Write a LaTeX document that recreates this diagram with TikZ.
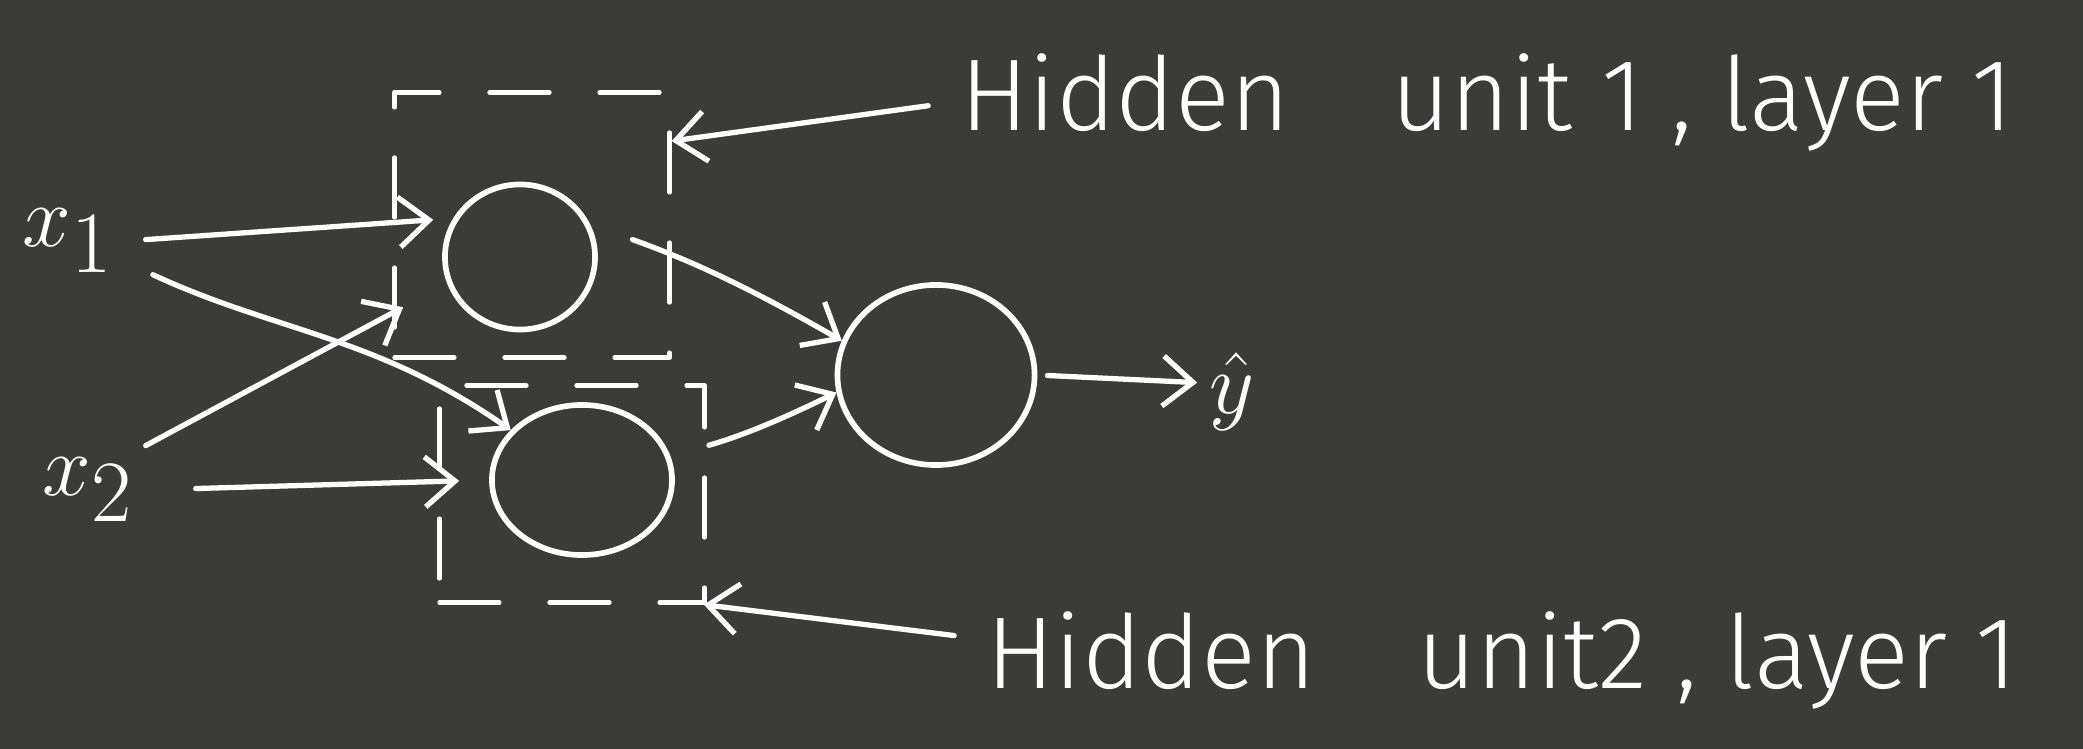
\documentclass[tikz,border=0pt]{standalone}
\usepackage{fontspec}
\usepackage{tikz}
\usetikzlibrary{arrows.meta, positioning, shapes.geometric}
\newfontfamily\handfont{Fira Sans}[UprightFont={* Light}]
\definecolor{boardbg}{RGB}{59,59,57}

\begin{document}
\begin{tikzpicture}[
    x=0.01cm, y=-0.01cm,
    line cap=round, line join=round,
    unitst/.style={draw=white, ellipse, line width=1.6pt, inner sep=0pt},
    boxst/.style={draw=white, line width=1.2pt, dash pattern=on 0.6cm off 0.5cm, inner sep=0pt},
    inst/.style={text=white, font=\fontsize{40}{48}\selectfont},
    labst/.style={text=white, font=\handfont\fontsize{29}{36}\selectfont, anchor=base west},
    arr/.style={-{Straight Barb[length=3mm,width=5mm]}, white, line width=1.5pt},
  ]
  \fill[boardbg] (0,0) rectangle (2083,749);
  \useasboundingbox (0,0) rectangle (2083,749);
  %% Inputs
  \node[inst] (x1) at (68,241) {$x_1$};
  \node[inst] (x2) at (88,490) {$x_2$};
  %% Hidden layer
  \node[unitst, minimum width=1.5cm, minimum height=1.45cm] (h1) at (520,257) {};
  \node[unitst, minimum width=1.8cm, minimum height=1.5cm] (h2) at (582,480) {};
  \node[boxst, minimum width=2.75cm, minimum height=2.65cm] (box1) at (532,225) {};
  \node[boxst, minimum width=2.65cm, minimum height=2.17cm] (box2) at (572,494) {};
  %% Output
  \node[unitst, minimum width=1.97cm, minimum height=1.8cm] (out) at (936,375) {};
  \node[inst, font=\fontsize{52}{60}\selectfont] (yhat) at (1232,392) {$\hat{y}$};
  %% Labels
  \node[labst] (lab1) at (948,131) {Hidden\quad unit 1 , layer 1};
  \node[labst] (lab2) at (974,688) {Hidden\quad unit2 , layer 1};
  %% Arrows
  \draw[arr, shorten <=2mm, shorten >=2mm] (x1.east) -- (h1.150);
  \draw[arr, shorten <=3mm] (x1.-20) to[out=-25, in=145] (h2.145);
  \draw[arr, shorten >=5mm] (x2.north east) -- (h1.200);
  \draw[arr, shorten <=5mm, shorten >=3mm] (x2.east) -- (h2.west);
  \draw[arr, shorten <=4.5mm] (h1.25) to[bend left=5] (out.160);
  \draw[arr, shorten <=4mm] (h2.15) to[bend right=5] (out.190);
  \draw[arr, shorten <=1mm] (out.east) -- (yhat.165);
  \draw[arr, shorten <=2mm] (lab1.west) -- (box1.31);
  \draw[arr, shorten <=2mm] ([yshift=0.22cm]lab2.west) -- (box2.-40);
\end{tikzpicture}
\end{document}
